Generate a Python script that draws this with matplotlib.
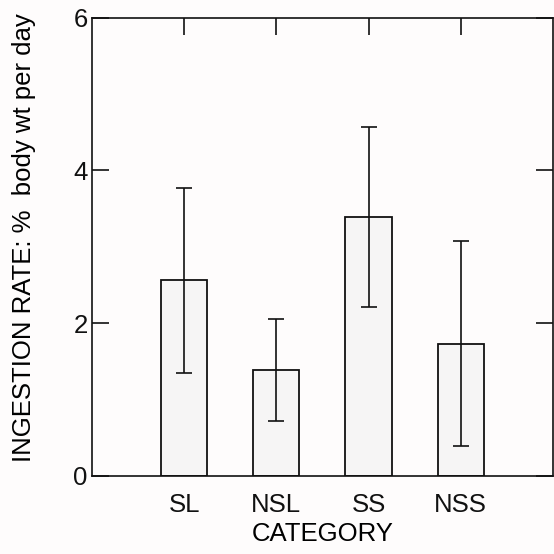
import matplotlib.pyplot as plt

plt.rcParams['font.family'] = ['Liberation Sans', 'DejaVu Sans']

# data
categories = ['SL', 'NSL', 'SS', 'NSS']
rate = [2.56, 1.39, 3.39, 1.73]
sd = [1.21, 0.67, 1.18, 1.34]
yticks = [0, 2, 4, 6]

bg = '#fefcfc'
fig = plt.figure(figsize=(5.54, 5.54), dpi=100, facecolor=bg)
ax = fig.add_axes([0.166, 0.141, 0.832, 0.827], facecolor=bg)

xpos = list(range(1, len(categories) + 1))
ax.bar(xpos, rate, width=0.5, color='#f6f5f5', edgecolor='#111111', linewidth=1.3)
ax.errorbar(xpos, rate, yerr=sd, fmt='none', ecolor='#111111',
            elinewidth=1.2, capsize=6, capthick=1.2)

ax.set_xlim(0, 5)
ax.set_ylim(0, 6)
ax.set_xticks(xpos)
ax.set_xticklabels(categories)
ax.set_yticks(yticks)

for s in ax.spines.values():
    s.set_linewidth(1.2)
    s.set_color('#111111')

ax.tick_params(axis='both', direction='in', length=12, width=1.2,
               labelsize=18.5, colors='#111111')
ax.tick_params(axis='x', bottom=False, top=True, pad=12)
ax.tick_params(axis='y', left=True, right=True, pad=3)

ax.set_xlabel('CATEGORY', fontsize=18.5, labelpad=4)
ax.set_ylabel('INGESTION RATE: %  body wt per day', fontsize=18.5)
ax.yaxis.set_label_coords(-0.121, 0.521)

fig.savefig('out.png', dpi=100, facecolor=bg)
